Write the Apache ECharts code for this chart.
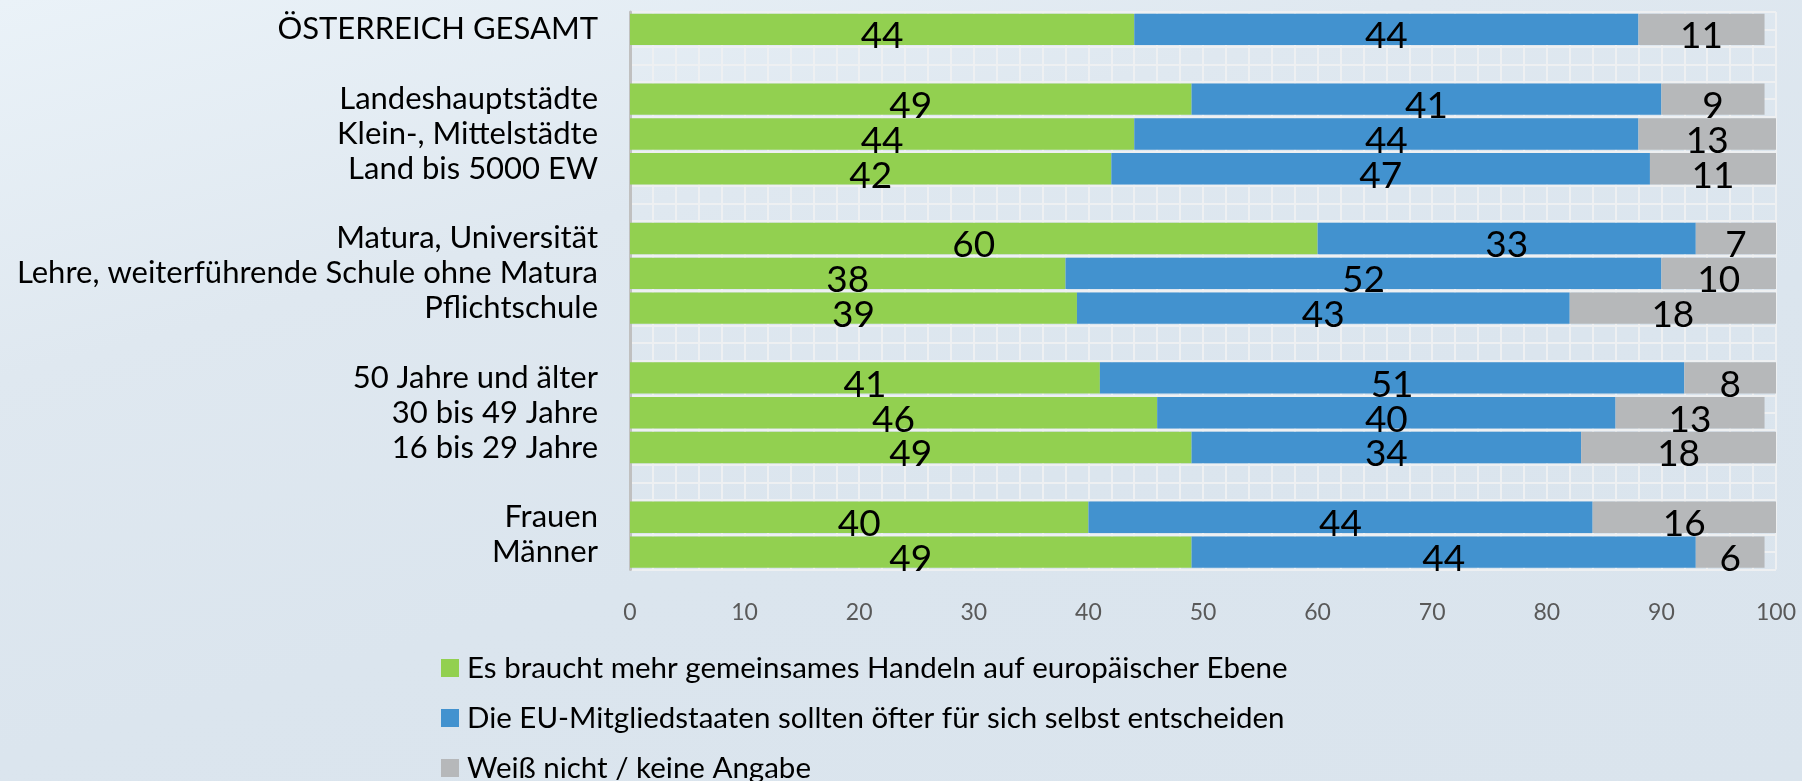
<!DOCTYPE html>
<html>
<head>
<meta charset="utf-8">
<script src="https://cdn.jsdelivr.net/npm/echarts@6/dist/echarts.min.js"></script>
<style>
  html, body { margin: 0; padding: 0; }
  body {
    width: 1802px; height: 781px; overflow: hidden;
    background: linear-gradient(165deg, #eaf2f8 0%, #dfe8f0 30%, #dbe5ee 60%, #dae4ed 100%);
  }
  #chart { width: 1802px; height: 781px; }
</style>
</head>
<body>
<div id="chart"></div>
<script>
// Categories, top to bottom (blank entries are spacer rows)
const categories = [
  'ÖSTERREICH GESAMT', ' ',
  'Landeshauptstädte', 'Klein-, Mittelstädte', 'Land bis 5000 EW', '  ',
  'Matura, Universität', 'Lehre, weiterführende Schule ohne Matura', 'Pflichtschule', '   ',
  '50 Jahre und älter', '30 bis 49 Jahre', '16 bis 29 Jahre', '    ',
  'Frauen', 'Männer'
];
const seriesNames = [
  'Es braucht mehr gemeinsames Handeln auf europäischer Ebene',
  'Die EU-Mitgliedstaaten sollten öfter für sich selbst entscheiden',
  'Weiß nicht / keine Angabe'
];
const gemeinsam   = [44, null, 49, 44, 42, null, 60, 38, 39, null, 41, 46, 49, null, 40, 49];
const selbst      = [44, null, 41, 44, 47, null, 33, 52, 43, null, 51, 40, 34, null, 44, 44];
const weissNicht  = [11, null,  9, 13, 11, null,  7, 10, 18, null,  8, 13, 18, null, 16,  6];
const xTicks = [0, 100, 10];

const colors = ['#92d050', '#4292cf', '#b6b8ba'];
const FONT = 'Lato';

const chart = echarts.init(document.getElementById('chart'), null, { renderer: 'canvas' });

function barSeries(name, data, color) {
  return {
    name: name,
    type: 'bar',
    stack: 'total',
    data: data,
    barCategoryGap: '10%',
    itemStyle: { color: color },
    label: {
      show: true,
      position: 'inside',
      color: '#000',
      fontFamily: FONT,
      fontSize: 37,
      offset: [0, 7],
      formatter: p => (p.value == null ? '' : String(p.value))
    },
    z: 3
  };
}

chart.setOption({
  backgroundColor: 'transparent',
  animation: false,
  textStyle: { fontFamily: FONT },
  grid: { left: 630, right: 26, top: 12, bottom: 211.5, containLabel: false },
  xAxis: {
    type: 'value',
    min: xTicks[0], max: xTicks[1], interval: xTicks[2],
    axisLine: { show: false },
    axisTick: { show: false },
    axisLabel: { color: '#595959', fontSize: 23, fontFamily: FONT, margin: 32, showMaxLabel: true },
    splitLine: { show: true, lineStyle: { color: '#eef0f2', width: 2 } },
    minorTick: { show: false, splitNumber: 5 },
    minorSplitLine: { show: true, lineStyle: { color: '#eef0f2', width: 2 } }
  },
  yAxis: [
    {
      type: 'category',
      data: categories,
      inverse: true,
      axisLine: { show: true, lineStyle: { color: '#c0c0c0', width: 3 } },
      axisTick: { show: false },
      axisLabel: { color: '#000', fontSize: 31, fontFamily: FONT, margin: 32, interval: 0 },
      splitLine: { show: false }
    },
    {
      type: 'value',
      min: 0, max: categories.length * 2, interval: 1,
      position: 'right',
      axisLine: { show: false },
      axisTick: { show: false },
      axisLabel: { show: false },
      splitLine: { show: true, lineStyle: { color: '#eef0f2', width: 2 } }
    }
  ],
  legend: {
    orient: 'vertical',
    left: 441,
    top: 653,
    height: 200,
    width: 1100,
    padding: 0,
    icon: 'rect',
    itemWidth: 18,
    itemHeight: 18,
    itemGap: 20,
    textStyle: { color: '#000', fontSize: 29.5, fontFamily: FONT, lineHeight: 20, padding: [0, 0, 0, 3] },
    data: seriesNames
  },
  series: [
    barSeries(seriesNames[0], gemeinsam, colors[0]),
    barSeries(seriesNames[1], selbst, colors[1]),
    barSeries(seriesNames[2], weissNicht, colors[2])
  ]
});
</script>
</body>
</html>
